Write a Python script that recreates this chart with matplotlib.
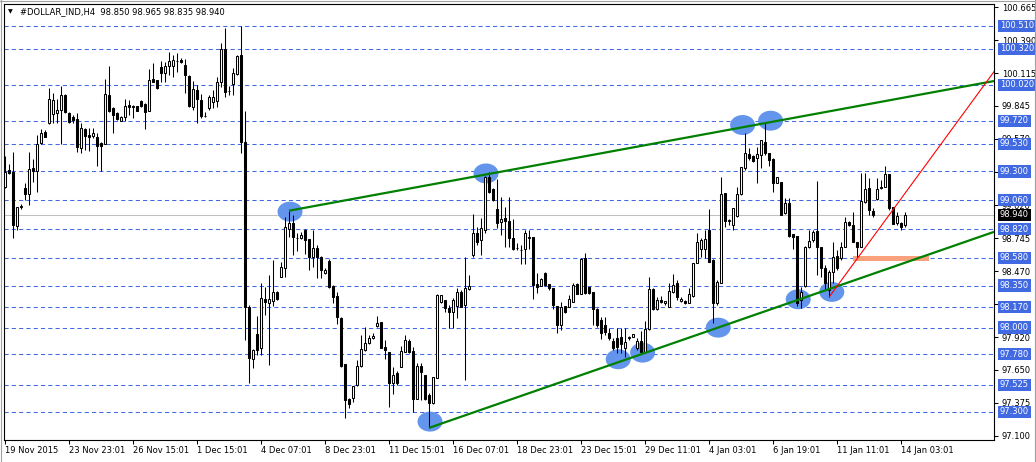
import matplotlib
matplotlib.use("Agg")
import matplotlib.pyplot as plt
from matplotlib.patches import Ellipse, Rectangle
from matplotlib.lines import Line2D
from matplotlib.transforms import blended_transform_factory
import numpy as np

# ---------------- data ----------------
symbol_title = "#DOLLAR_IND,H4  98.850 98.965 98.835 98.940"

opens = [99.170, 99.312, 99.295, 98.846, 99.004, 99.162, 99.112, 99.328, 99.303, 99.536,
         99.628, 99.703, 99.777, 99.786, 99.811, 99.935, 99.786, 99.753, 99.736, 99.495,
         99.653, 99.603, 99.594, 99.586, 99.536, 99.528, 99.935, 99.827, 99.786, 99.719,
         99.753, 99.852, 99.844, 99.844, 99.886, 99.861, 99.802, 100.069, 100.060, 100.169,
         100.119, 100.177, 100.177, 100.218, 100.227, 100.185, 100.094, 99.836, 99.977, 99.894,
         99.761, 99.827, 99.877, 99.886, 100.044, 100.318, 99.969, 100.027, 100.110, 100.268,
         99.545, 98.172, 97.739, 97.947, 97.831, 98.238, 98.205, 98.222, 98.297, 98.421,
         98.496, 98.821, 98.871, 98.746, 98.746, 98.812, 98.738, 98.588, 98.663, 98.588,
         98.455, 98.555, 98.347, 98.264, 98.080, 97.698, 97.406, 97.415, 97.523, 97.681,
         97.814, 97.872, 97.914, 98.014, 98.047, 97.839, 97.798, 97.540, 97.623, 97.673,
         97.798, 97.889, 97.806, 97.406, 97.681, 97.606, 97.440, 97.373, 97.581, 98.213,
         98.230, 98.164, 98.130, 98.180, 98.297, 98.189, 98.322, 98.604, 98.787, 98.729,
         98.812, 99.253, 99.154, 98.987, 98.879, 98.912, 98.887, 98.746, 98.663, 98.646,
         98.654, 98.746, 98.754, 98.363, 98.347, 98.455, 98.363, 98.330, 98.180, 98.022,
         98.180, 98.172, 98.213, 98.363, 98.280, 98.579, 98.338, 98.297, 98.155, 98.064,
         98.022, 97.956, 97.889, 97.914, 97.922, 97.831, 97.914, 97.922, 97.831, 97.889,
         97.798, 97.989, 98.322, 98.155, 98.230, 98.205, 98.172, 98.297, 98.371, 98.222,
         98.222, 98.205, 98.264, 98.538, 98.654, 98.654, 98.812, 98.563, 98.205, 98.371,
         99.120, 98.887, 98.854, 98.929, 99.112, 99.328, 99.445, 99.428, 99.411, 99.436,
         99.545, 99.453, 99.403, 99.204, 99.212, 98.954, 99.037, 98.779, 98.763, 98.230,
         98.347, 98.671, 98.729, 98.804, 98.671, 98.496, 98.313, 98.463, 98.596, 98.579,
         98.671, 98.879, 98.854, 98.713, 98.671, 99.045, 99.162, 98.971, 99.070, 99.162,
         99.170, 99.278, 99.004, 98.871, 98.871, 98.850]

highs = [99.428, 99.362, 99.461, 99.004, 99.029, 99.204, 99.461, 99.403, 99.603, 99.653,
         99.644, 99.994, 99.952, 99.902, 100.010, 99.944, 99.794, 99.769, 99.786, 99.703,
         99.661, 99.661, 99.661, 99.619, 99.545, 100.069, 100.177, 99.836, 99.794, 99.761,
         99.902, 99.894, 99.852, 99.844, 99.894, 99.869, 100.152, 100.202, 100.060, 100.218,
         100.210, 100.293, 100.268, 100.285, 100.243, 100.235, 100.102, 100.052, 100.019, 99.944,
         99.794, 99.935, 99.977, 100.085, 100.368, 100.493, 100.010, 100.160, 100.268, 100.510,
         99.802, 98.189, 97.823, 98.097, 98.371, 98.338, 98.438, 98.563, 98.305, 98.546,
         98.921, 98.971, 98.937, 98.787, 98.796, 98.821, 98.738, 98.812, 98.688, 98.596,
         98.496, 98.571, 98.355, 98.297, 98.089, 97.698, 97.415, 97.515, 97.731, 97.939,
         98.005, 97.939, 97.956, 98.097, 98.047, 97.897, 97.798, 97.673, 97.639, 97.848,
         97.939, 97.906, 97.839, 97.706, 97.706, 97.606, 97.456, 97.590, 98.280, 98.272,
         98.230, 98.189, 98.247, 98.330, 98.313, 98.588, 98.438, 98.946, 98.837, 98.912,
         99.262, 99.295, 99.162, 99.237, 99.087, 99.004, 99.087, 98.904, 98.704, 98.688,
         98.812, 98.812, 98.754, 98.455, 98.413, 98.463, 98.363, 98.330, 98.180, 98.213,
         98.180, 98.272, 98.371, 98.371, 98.579, 98.621, 98.338, 98.297, 98.164, 98.089,
         98.089, 97.997, 97.914, 97.997, 97.997, 97.997, 97.931, 97.947, 97.914, 97.972,
         98.055, 98.421, 98.330, 98.255, 98.264, 98.222, 98.371, 98.446, 98.397, 98.255,
         98.230, 98.330, 98.538, 98.787, 98.746, 98.812, 98.987, 98.571, 98.397, 99.253,
         99.120, 98.904, 98.996, 99.170, 99.337, 99.619, 99.495, 99.436, 99.503, 99.561,
         99.703, 99.453, 99.411, 99.253, 99.212, 99.079, 99.079, 98.779, 98.763, 98.338,
         98.679, 98.812, 98.812, 99.220, 98.671, 98.521, 98.480, 98.713, 98.646, 98.713,
         98.921, 98.887, 98.962, 98.713, 99.287, 99.287, 99.245, 98.996, 99.245, 99.228,
         99.345, 99.278, 99.004, 98.962, 98.879, 98.965]

lows = [99.162, 99.278, 98.746, 98.812, 98.987, 99.062, 99.021, 99.212, 99.129, 99.528,
        99.586, 99.694, 99.703, 99.703, 99.528, 99.786, 99.703, 99.703, 99.461, 99.453,
        99.478, 99.470, 99.578, 99.345, 99.303, 99.528, 99.794, 99.619, 99.728, 99.719,
        99.719, 99.769, 99.744, 99.802, 99.836, 99.653, 99.802, 100.044, 99.985, 100.044,
        100.044, 100.102, 100.085, 100.127, 100.202, 99.952, 99.836, 99.811, 99.703, 99.744,
        99.753, 99.811, 99.827, 99.836, 100.002, 99.919, 99.935, 99.935, 100.102, 99.453,
        97.897, 97.540, 97.664, 97.773, 97.773, 98.105, 97.689, 98.180, 98.230, 98.421,
        98.421, 98.754, 98.604, 98.638, 98.738, 98.613, 98.480, 98.505, 98.413, 98.413,
        98.446, 98.330, 98.205, 98.030, 97.673, 97.249, 97.332, 97.382, 97.515, 97.673,
        97.806, 97.864, 97.906, 98.005, 97.831, 97.739, 97.340, 97.448, 97.523, 97.673,
        97.798, 97.789, 97.299, 97.406, 97.398, 97.398, 97.165, 97.365, 97.581, 98.205,
        98.130, 97.997, 97.997, 98.080, 98.172, 97.565, 98.313, 98.588, 98.688, 98.604,
        98.787, 99.120, 99.054, 98.829, 98.771, 98.671, 98.671, 98.646, 98.646, 98.530,
        98.530, 98.654, 98.238, 98.288, 98.347, 98.347, 98.313, 98.155, 97.956, 97.981,
        98.122, 98.172, 98.213, 98.280, 98.280, 98.280, 98.280, 98.022, 98.005, 97.906,
        97.939, 97.897, 97.814, 97.789, 97.789, 97.756, 97.897, 97.922, 97.814, 97.789,
        97.798, 97.981, 98.147, 98.147, 98.205, 98.189, 98.172, 98.288, 98.230, 98.213,
        98.197, 98.205, 98.255, 98.538, 98.588, 98.579, 98.546, 98.039, 98.189, 98.371,
        98.837, 98.854, 98.812, 98.921, 99.104, 99.312, 99.395, 99.378, 99.204, 99.328,
        99.436, 99.345, 99.129, 99.204, 98.937, 98.946, 98.754, 98.654, 98.180, 98.164,
        98.338, 98.663, 98.713, 98.438, 98.421, 98.313, 98.255, 98.371, 98.480, 98.563,
        98.671, 98.846, 98.713, 98.588, 98.671, 99.037, 98.937, 98.921, 99.062, 99.154,
        99.170, 98.979, 98.862, 98.854, 98.812, 98.835]

closes = [99.295, 99.287, 98.854, 99.004, 99.012, 99.112, 99.320, 99.303, 99.528, 99.619,
          99.586, 99.902, 99.894, 99.811, 99.935, 99.794, 99.711, 99.728, 99.503, 99.661,
          99.594, 99.586, 99.619, 99.511, 99.511, 99.944, 99.802, 99.769, 99.736, 99.753,
          99.844, 99.836, 99.836, 99.802, 99.844, 99.794, 100.060, 100.044, 99.994, 100.119,
          100.177, 100.218, 100.227, 100.222, 100.210, 100.102, 99.844, 99.985, 99.902, 99.761,
          99.765, 99.919, 99.919, 100.044, 100.318, 99.960, 99.965, 100.119, 100.260, 99.545,
          98.172, 97.748, 97.814, 97.814, 98.247, 98.213, 98.238, 98.297, 98.238, 98.505,
          98.837, 98.871, 98.754, 98.742, 98.771, 98.729, 98.588, 98.663, 98.588, 98.480,
          98.480, 98.338, 98.255, 98.089, 97.681, 97.398, 97.365, 97.515, 97.681, 97.823,
          97.872, 97.914, 97.931, 98.039, 97.831, 97.814, 97.540, 97.606, 97.540, 97.806,
          97.897, 97.798, 97.406, 97.681, 97.631, 97.406, 97.373, 97.590, 98.272, 98.272,
          98.164, 98.130, 98.230, 98.297, 98.172, 98.330, 98.347, 98.787, 98.713, 98.829,
          99.253, 99.129, 99.062, 98.871, 98.904, 98.887, 98.746, 98.654, 98.659, 98.642,
          98.787, 98.754, 98.355, 98.338, 98.405, 98.355, 98.330, 98.189, 98.022, 98.172,
          98.130, 98.238, 98.355, 98.280, 98.571, 98.288, 98.288, 98.155, 98.022, 97.956,
          97.964, 97.914, 97.831, 97.839, 97.864, 97.881, 97.922, 97.947, 97.889, 97.798,
          97.989, 98.322, 98.155, 98.230, 98.213, 98.222, 98.305, 98.355, 98.255, 98.238,
          98.205, 98.280, 98.538, 98.713, 98.729, 98.738, 98.546, 98.205, 98.380, 99.112,
          98.887, 98.896, 98.996, 99.112, 99.337, 99.453, 99.411, 99.386, 99.445, 99.561,
          99.453, 99.395, 99.204, 99.253, 98.937, 99.037, 98.763, 98.754, 98.205, 98.297,
          98.671, 98.721, 98.796, 98.671, 98.496, 98.371, 98.463, 98.588, 98.496, 98.671,
          98.879, 98.854, 98.713, 98.671, 99.054, 99.154, 98.979, 98.937, 99.154, 99.170,
          99.278, 98.996, 98.862, 98.929, 98.837, 98.940]

date_labels = ["19 Nov 2015", "23 Nov 23:01", "26 Nov 15:01", "1 Dec 15:01", "4 Dec 07:01",
               "8 Dec 23:01", "11 Dec 15:01", "16 Dec 07:01", "18 Dec 23:01", "23 Dec 15:01",
               "29 Dec 11:01", "4 Jan 03:01", "6 Jan 19:01", "11 Jan 11:01", "14 Jan 03:01"]
date_label_bars = [0, 16, 32, 48, 64, 80, 96, 112, 128, 144, 160, 176, 192, 208, 224]

level_prices = [100.510, 100.320, 100.020, 99.720, 99.530, 99.300, 99.060, 98.820,
                98.580, 98.350, 98.170, 98.000, 97.780, 97.525, 97.300]
scale_ticks = [100.665, 100.390, 100.115, 99.845, 99.570, 99.295, 99.020, 98.745,
               98.470, 98.195, 97.920, 97.650, 97.375, 97.100]
current_price = 98.940

ellipse_bar = [71.25, 120.25, 184.4, 191.4, 198.3, 206.7, 178.3, 159.4, 153.3, 106.25]
ellipse_price = [98.965, 99.283, 99.686, 99.722, 98.236, 98.297, 98.000, 97.792, 97.737, 97.218]

upper_line_bars = [71.0, 247.25]
upper_line_prices = [98.973, 100.052]
lower_line_bars = [106.0, 247.25]
lower_line_prices = [97.166, 98.797]
red_line_bars = [206.1, 247.25]
red_line_prices = [98.258, 100.130]
zone_bars = [211.9, 231.0]
zone_prices = [98.557, 98.597]

# ---------------- figure ----------------
W, H = 1036, 462
plt.rcParams['font.family'] = ['DejaVu Sans']
fig = plt.figure(figsize=(W / 100, H / 100), dpi=100)
fig.patch.set_facecolor('white')
ax = fig.add_axes([4 / W, 22 / H, 990 / W, 436 / H])
ax.set_facecolor('white')

o = np.array(opens); h = np.array(highs); l = np.array(lows); c = np.array(closes)
idx = np.arange(len(o))

ax.set_xlim(-0.25, 247.25)
ax.set_ylim(97.065, 100.693)

BLUE = '#4169E1'
for lv in level_prices:
    ax.axhline(lv, color=BLUE, lw=0.75, ls=(0, (4, 3)), zorder=1)
ax.axhline(current_price, color='#C0C0C0', lw=0.75, zorder=1)

for xb, yp in zip(ellipse_bar, ellipse_price):
    ax.add_patch(Ellipse((xb, yp), 6.25, 0.166, facecolor='#6495ED',
                         edgecolor='none', zorder=2))

ax.add_patch(Rectangle((zone_bars[0], zone_prices[0]), zone_bars[1] - zone_bars[0],
                       zone_prices[1] - zone_prices[0], facecolor='#F9A07C',
                       edgecolor='none', zorder=2.5))

ax.vlines(idx, l, h, color='black', lw=0.75, zorder=3)
bottoms = np.minimum(o, c)
heights = np.abs(c - o)
cols = ['white' if cc >= oo else 'black' for oo, cc in zip(o, c)]
ax.bar(idx, heights, bottom=bottoms, width=0.5, color=cols, edgecolor='black',
       linewidth=0.75, zorder=4)

ax.plot(upper_line_bars, upper_line_prices, color='#008000', lw=1.6, zorder=5,
        solid_capstyle='butt')
ax.plot(lower_line_bars, lower_line_prices, color='#008000', lw=1.6, zorder=5,
        solid_capstyle='butt')
ax.plot(red_line_bars, red_line_prices, color='red', lw=0.8, zorder=5)

# axes styling
for sp in ax.spines.values():
    sp.set_color('black')
    sp.set_linewidth(0.8)

ax.yaxis.tick_right()
ax.set_yticks(scale_ticks)
ax.set_yticklabels([f"{v:.3f}" for v in scale_ticks])
ax.tick_params(axis='y', direction='out', length=3, width=0.75, pad=2.5,
               labelsize=6, colors='black')

ax.set_xticks(date_label_bars)
ax.set_xticklabels(date_labels)
ax.tick_params(axis='x', direction='out', length=3, width=0.75, pad=1.5,
               labelsize=6, colors='black')
for lab in ax.get_xticklabels():
    lab.set_horizontalalignment('left')

trans = blended_transform_factory(ax.transAxes, ax.transData)
xlab = 1.0 + 6 / 990
for lv in level_prices:
    ax.text(xlab, lv, f"{lv:.3f}", transform=trans, ha='left', va='center',
            fontsize=6, color='white', zorder=10, clip_on=False,
            bbox=dict(boxstyle='square,pad=0.2', fc=BLUE, ec='none'))
ax.text(xlab, current_price, f"{current_price:.3f}", transform=trans, ha='left',
        va='center', fontsize=6, color='white', zorder=11, clip_on=False,
        bbox=dict(boxstyle='square,pad=0.2', fc='black', ec='none'))

fig.text(8 / W, 1 - 12 / H, "\u25BC", fontsize=4.5, color='black', va='center', ha='left')
fig.text(20 / W, 1 - 12 / H, symbol_title, fontsize=6, color='black', va='center', ha='left')

# thin grey window frame
frame_kw = dict(transform=fig.transFigure, color='#A0A0A0', lw=0.8)
fig.add_artist(Line2D([0.5 / W, 0.5 / W], [0, 1], **frame_kw))
fig.add_artist(Line2D([0, 1], [1 - 0.5 / H, 1 - 0.5 / H], **frame_kw))
fig.add_artist(Line2D([1 - 1.5 / W, 1 - 1.5 / W], [0, 1], **frame_kw))

fig.savefig("out.png", dpi=100, facecolor='white')
